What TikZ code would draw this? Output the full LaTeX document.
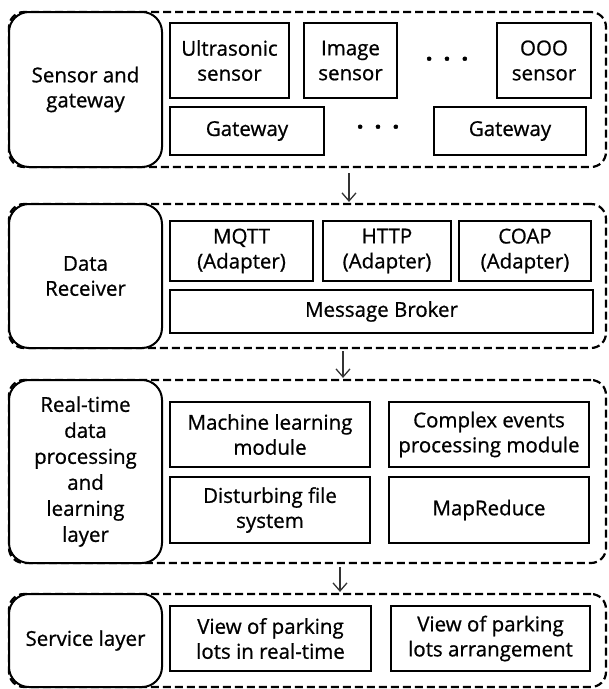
\documentclass[tikz,border=0pt]{standalone}
\usepackage{fontspec}
\setmainfont{Open Sans}[FakeBold=1.6]
\usetikzlibrary{arrows.meta}

\begin{document}
\begin{tikzpicture}[x=1pt, y=-1pt, >={Straight Barb[length=8pt,width=14pt]},
                       layerbox/.style = {draw, line width=2.2pt, dash pattern=on 8pt off 4pt,
                                          rounded corners=15pt, inner sep=0pt},
                       titlebox/.style = {draw, fill=white, line width=2pt, rounded corners=20pt,
                                          minimum width=153pt, align=center, inner sep=0pt,
                                          font=\fontsize{20.5}{25}\selectfont\addfontfeature{FakeBold=0.8}},
                       modbox/.style = {draw, fill=white, line width=2.6pt, align=center,
                                        inner sep=0pt, font=\fontsize{20.5}{25}\selectfont\addfontfeature{FakeBold=0.8}},
                       flowline/.style = {->, line width=1.3pt, black!80}
                      ]
     \useasboundingbox (0,0) rectangle (609,689);

     \node[layerbox, minimum width=597pt, minimum height=155pt] (lay1) at (307.5,89.5) {};
     \node[layerbox, minimum width=597pt, minimum height=144pt] (lay2) at (307.5,276) {};
     \node[layerbox, minimum width=597pt, minimum height=183pt] (lay3) at (307.5,471.5) {};
     \node[layerbox, minimum width=597pt, minimum height=93pt] (lay4) at (307.5,640.5) {};

     \node[titlebox, minimum height=155pt] (sensgw) at (85.5,89.5) {Sensor and\\gateway};
     \node[titlebox, minimum height=144pt] (datarecv) at (85.5,276) {Data\\Receiver};
     \node[titlebox, minimum height=183pt, font=\fontsize{20.5}{26}\selectfont\addfontfeature{FakeBold=0.8}] (rtproc) at (85.5,471.5)
                       {Real-time\\data\\processing\\and\\learning\\layer};
     \node[titlebox, minimum height=93pt] (service) at (85.5,640.5) {Service layer};

     \node[modbox, minimum width=119pt, minimum height=75pt] (ultra) at (229.5,60.5) {Ultrasonic\\sensor};
     \node[modbox, minimum width=93pt, minimum height=75pt] (imgsens) at (350.5,60.5) {Image\\sensor};
     \node[modbox, minimum width=94pt, minimum height=75pt] (ooosens) at (544,60.5) {OOO\\sensor};
     \node[font=\fontsize{24}{24}\selectfont\bfseries] (dotsA) at (447,62) {·\hspace{11pt}·\hspace{11pt}·};
     \node[modbox, minimum width=154pt, minimum height=48pt] (gwA) at (247,131) {Gateway};
     \node[modbox, minimum width=152pt, minimum height=48pt] (gwB) at (510,131) {Gateway};
     \node[font=\fontsize{24}{24}\selectfont\bfseries] (dotsB) at (378,130) {·\hspace{11pt}·\hspace{11pt}·};

     \node[modbox, minimum width=143pt, minimum height=60pt] (mqtt) at (241.5,251) {MQTT\\(Adapter)};
     \node[modbox, minimum width=128pt, minimum height=60pt] (http) at (387,251) {HTTP\\(Adapter)};
     \node[modbox, minimum width=132pt, minimum height=60pt] (coap) at (525,251) {COAP\\(Adapter)};
     \node[modbox, minimum width=423pt, minimum height=43pt] (broker) at (381.5,311.5) {Message Broker};

     \node[modbox, minimum width=200pt, minimum height=65pt] (mlmod) at (270,434.5) {Machine learning\\module};
     \node[modbox, minimum width=200pt, minimum height=65pt] (cepmod) at (489,434.5) {Complex events\\processing module};
     \node[modbox, minimum width=200pt, minimum height=66pt] (dfs) at (270,510) {Disturbing file\\system};
     \node[modbox, minimum width=200pt, minimum height=66pt] (mapred) at (489,510) {MapReduce};

     \node[modbox, minimum width=201pt, minimum height=65pt] (viewrt) at (270.5,638.5) {View of parking\\lots in real-time};
     \node[modbox, minimum width=199pt, minimum height=65pt] (viewarr) at (490.5,638.5) {View of parking\\lots arrangement};

     \draw[flowline] ([xshift=41.5pt,yshift=-5pt]lay1.south) -- ([xshift=41.5pt,yshift=1pt]lay2.north);
     \draw[flowline] ([xshift=35.5pt,yshift=-2pt]lay2.south) -- ([xshift=35.5pt,yshift=1pt]lay3.north);
     \draw[flowline] ([xshift=32.5pt,yshift=-3pt]lay3.south) -- ([xshift=32.5pt,yshift=1pt]lay4.north);

   \end{tikzpicture}
\end{document}
